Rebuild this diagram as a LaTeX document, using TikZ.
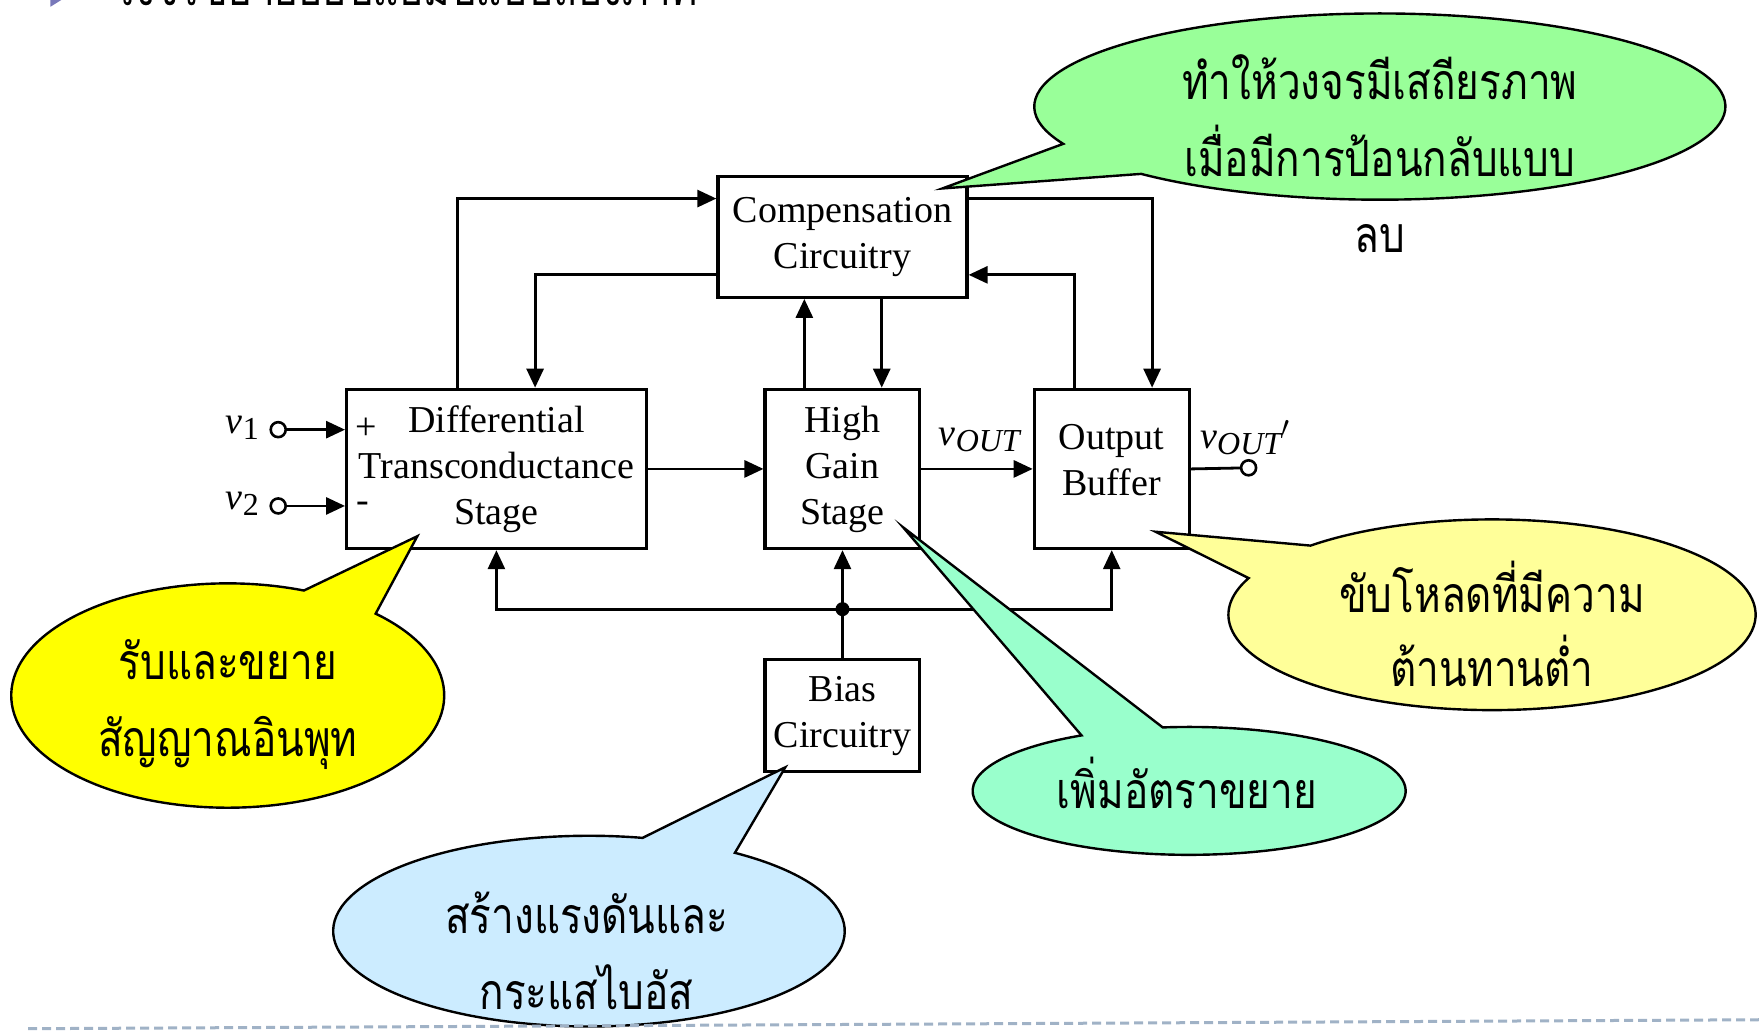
\documentclass[tikz,border=0pt]{standalone}
\usepackage{fontspec}
\setmainfont{Liberation Serif}
\newfontfamily\thaifont[Script=Thai,FakeStretch=0.81]{Loma}
\usetikzlibrary{arrows.meta,calc}
\newcommand\pxu{0.5609pt}
\definecolor{cgreen}{HTML}{99FF99}
\definecolor{cyellow}{HTML}{FFFF00}
\definecolor{clyellow}{HTML}{FFFF99}
\definecolor{cmint}{HTML}{99FFCC}
\definecolor{cblue}{HTML}{CCECFF}
\definecolor{crule}{RGB}{160,178,198}
\definecolor{cbullet}{RGB}{120,120,185}
% speech bubble: fill, centre x, centre y, x radius, y radius, start angle, end angle, tip
\newcommand\bubble[8]{%
  \filldraw[callout,fill=#1] #8 -- ($(#2,#3)+(#6:#4 and #5)$)
    arc[start angle=#6,end angle=#7,x radius=#4,y radius=#5] -- cycle;}
\begin{document}
\begin{tikzpicture}[x=0.5609pt,y=-0.5609pt,
  blk/.style={draw,line width=1.6pt,fill=white,align=center,inner sep=0pt,
    font=\fontsize{19}{23}\selectfont},
  arr/.style={line width=1.4pt,-{Triangle[length=9.5pt,width=8.5pt]}},
  wire/.style={line width=1.4pt},
  term/.style={circle,draw,line width=1.3pt,fill=white,inner sep=0pt,minimum size=7.5pt},
  jdot/.style={circle,fill,inner sep=0pt,minimum size=7pt},
  callout/.style={draw,line width=1.2pt},
  thaitxt/.style={anchor=base,inner sep=0pt,font=\thaifont\fontsize{25}{29}\selectfont},
  lbl/.style={font=\fontsize{19}{23}\selectfont},
  sign/.style={inner sep=0.5pt,font=\fontsize{19}{23}\selectfont}
]
\useasboundingbox (0,0) rectangle (1568,920);
\clip (0,0) rectangle (1568,920);

% heading line running off the top edge
\fill[cbullet] (45,-9) -- (45,6) -- (57,-1.5) -- cycle;
\node[thaitxt,anchor=base west] (title) at (100,5) {วงจรขยายออปแอมป์แบบสองภาค};

% blocks
\node[blk,minimum width=222*\pxu,minimum height=108*\pxu] (comp) at (751,211) {Compensation\\Circuitry};
\node[blk,minimum width=267*\pxu,minimum height=142*\pxu] (diff) at (442.5,418) {Differential\\Transconductance\\Stage};
\node[blk,minimum width=138*\pxu,minimum height=142*\pxu] (hg) at (751,418) {High\\Gain\\Stage};
\node[blk,minimum width=138*\pxu,minimum height=142*\pxu] (ob) at (991,418) {};
\node[lbl,align=center] (obtext) at (991,410) {Output\\Buffer};
\node[blk,minimum width=138*\pxu,minimum height=100*\pxu] (bias) at (751,638) {Bias\\Circuitry};

\node[sign] (plus) at (326,382) {+};
\node[sign] (minus) at (323,452) {-};

% inputs and output terminals
\node[term] (in1) at (248,383) {};
\node[term] (in2) at (248,451) {};
\node[term] (out) at (1113,417) {};
\node[lbl,anchor=east] (v1l) at (237,381) {\textit{v}\raisebox{-0.35ex}{\fontsize{16}{16}\selectfont 1}};
\node[lbl,anchor=east] (v2l) at (237,449) {\textit{v}\raisebox{-0.35ex}{\fontsize{16}{16}\selectfont 2}};
\node[lbl] (voutl) at (873,392) {\textit{v}\raisebox{-0.35ex}{\fontsize{16}{16}\selectfont\itshape OUT}};
\node[lbl] (voutpl) at (1110,390) {\textit{v}\raisebox{-0.35ex}{\fontsize{16}{16}\selectfont\itshape OUT}$'$};

\draw[arr] (in1) -- (diff.west |- in1);
\draw[arr] (in2) -- (diff.west |- in2);
\draw[arr] (diff.east) -- (hg.west);
\draw[arr] (hg.east) -- (ob.west);
\draw[wire] (ob.east) -- (out);

% feedback paths through the compensation block
\draw[arr] (diff.north -| 408,0) |- (comp.west |- 0,177);
\draw[arr] (comp.west |- 0,245) -| (diff.north -| 477,0);
\draw[arr] (hg.north -| 717,0) -- (comp.south -| 717,0);
\draw[arr] (comp.south -| 786,0) -- (hg.north -| 786,0);
\draw[arr] (comp.east |- 0,177) -| (ob.north -| 1027,0);
\draw[arr] (ob.north -| 958,0) |- (comp.east |- 0,245);

% bias distribution
\node[jdot] (j) at (751,543) {};
\draw[wire] (bias.north) -- (j.center);
\draw[arr] (j.center) -- (hg.south);
\draw[arr] (j.center) -| (diff.south);
\draw[arr] (j.center) -| (ob.south);

% callouts
\bubble{cgreen}{1230}{95}{308}{83}{156.4}{493.7}{(840,168)}
\node[thaitxt] (g1) at (1230,89) {ทำให้วงจรมีเสถียรภาพ};
\node[thaitxt] (g2) at (1230,157) {เมื่อมีการป้อนกลับแบบ};
\node[thaitxt] (g3) at (1230,225) {ลบ};

\bubble{cyellow}{203}{620}{193}{100}{313.1}{650.6}{(372,478)}
\node[thaitxt] (y1) at (203,606) {รับและขยาย};
\node[thaitxt] (y2) at (203,674) {สัญญาณอินพุท};

\bubble{clyellow}{1330}{548}{235}{85}{226.5}{562.6}{(1030,474)}
\node[thaitxt] (l1) at (1330,546) {ขับโหลดที่มีความ};
\node[thaitxt] (l2) at (1330,612) {ต้านทานต่ำ};

\bubble{cmint}{1060}{705}{193}{57}{263}{600.2}{(805,470)}
\node[thaitxt] (m1) at (1058,721) {เพิ่มอัตราขยาย};

\bubble{cblue}{525}{830}{228}{85}{304.8}{642.1}{(700,684)}
\node[thaitxt] (b1) at (523,832) {สร้างแรงดันและ};
\node[thaitxt] (b2) at (523,900) {กระแสไบอัส};

% footer rule
\draw[crule,line width=1.5pt,dash pattern=on 4.5pt off 2.5pt] (25,917) -- (1568,909);
\end{tikzpicture}
\end{document}
